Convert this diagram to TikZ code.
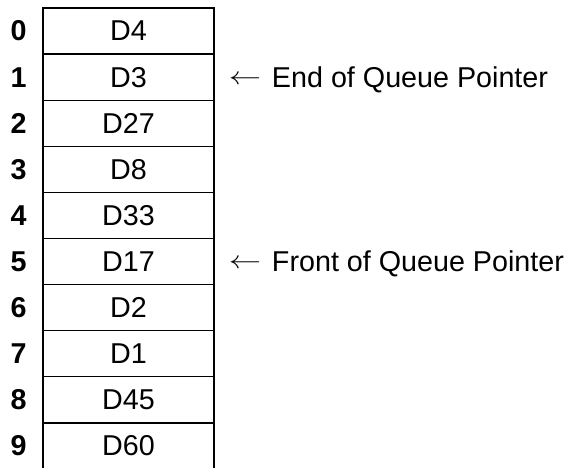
\documentclass[tikz,border=0pt]{standalone}
\usepackage{fontspec}
\setmainfont{Liberation Sans}
\usetikzlibrary{positioning}
\newcommand{\ptrarrow}{\raisebox{3pt}{\scalebox{1.3}[1]{$\leftarrow$}}\hspace{10.8pt}}

\begin{document}
\begin{tikzpicture}[x=1pt, y=-1pt, font=\fontsize{28.7}{34}\selectfont]
	\useasboundingbox (0,0) rectangle (569,468);
	\clip (-5,-5) rectangle (575,467.4);
	\foreach \i/\d in {0/D4, 1/D3, 2/D27, 3/D8, 4/D33, 5/D17, 6/D2, 7/D1, 8/D45, 9/D60}
	{
		\node[draw=black, line width=1.3pt, minimum width=171pt, minimum height=46.1pt, inner sep=0pt] (c\i) at (128.5, 31.05+46.1*\i) {\d};
		\node[font=\fontsize{28.7}{34}\selectfont\bfseries, inner sep=0pt] (n\i) at (18.5, 31.05+46.1*\i) {\i};
	}
	
	\node[anchor=west, inner sep=0pt, text height=20.5pt, text depth=0pt] (endq) at ([xshift=14pt]c1.east) {\ptrarrow End of Queue Pointer};
	\node[anchor=west, inner sep=0pt, text height=20.5pt, text depth=0pt] (frontq) at ([xshift=14pt]c5.east) {\ptrarrow Front of Queue Pointer};

\end{tikzpicture}
\end{document}
